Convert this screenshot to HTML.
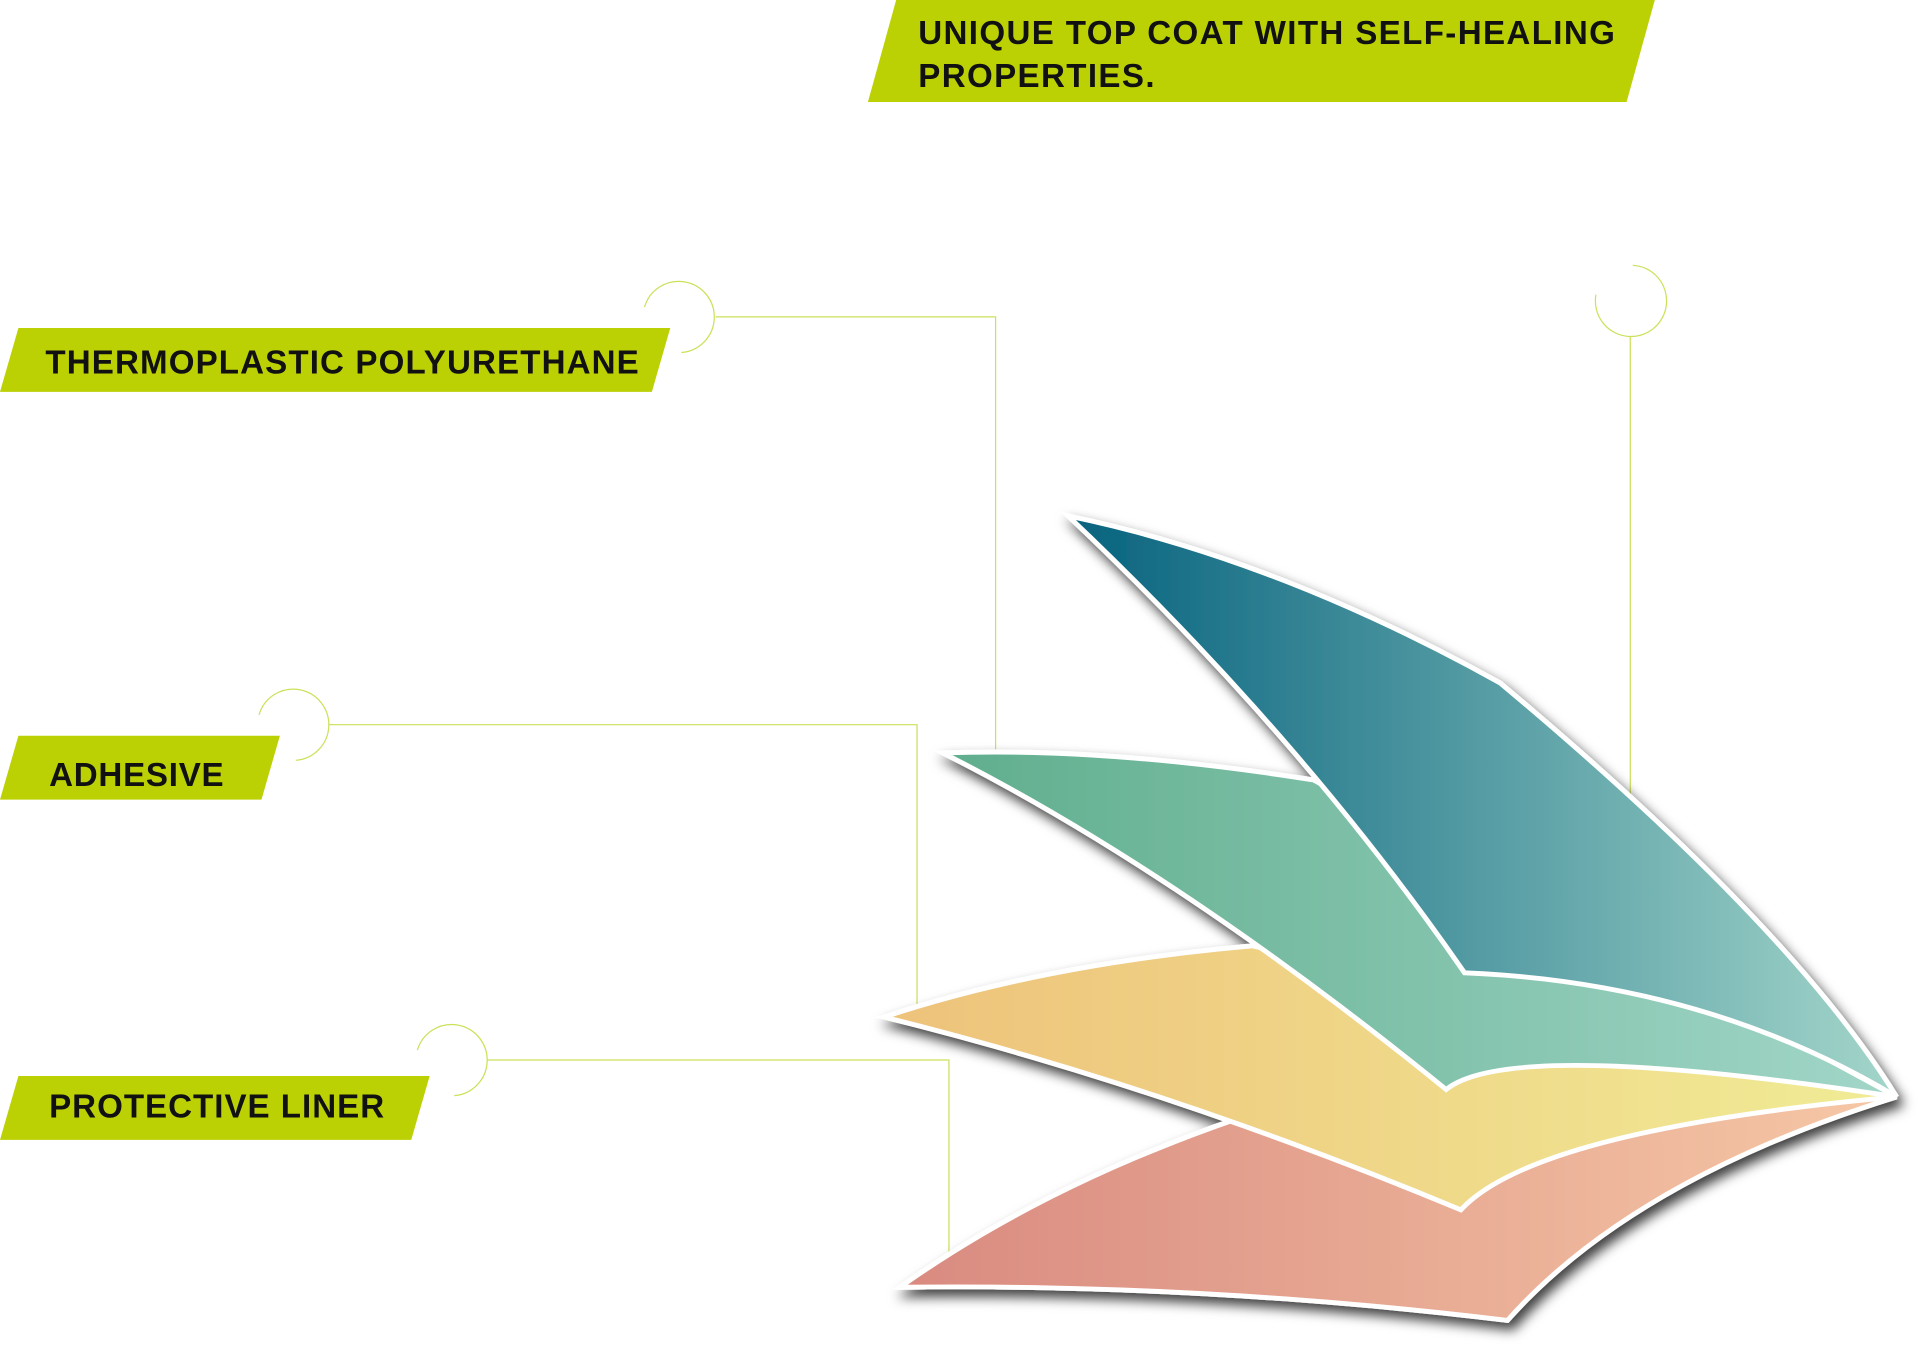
<!DOCTYPE html>
<html><head><meta charset="utf-8"><style>
html,body{margin:0;padding:0;background:#fff;}
svg{display:block;}
text{font-family:"Liberation Sans",sans-serif;font-weight:bold;fill:#111;}
</style></head><body>
<svg width="1920" height="1372" viewBox="0 0 1564 1117" preserveAspectRatio="none" xmlns="http://www.w3.org/2000/svg">
<defs>
<filter id="sh" x="-20%" y="-20%" width="140%" height="140%"><feDropShadow dx="4" dy="6" stdDeviation="5" flood-color="#000" flood-opacity="0.75"/></filter>
<linearGradient id="gp" x1="0" x2="1"><stop offset="0" stop-color="#d98a80"/><stop offset="1" stop-color="#f6c8a6"/></linearGradient>
<linearGradient id="gy" x1="0" x2="1"><stop offset="0" stop-color="#eec27a"/><stop offset="1" stop-color="#f0ec96"/></linearGradient>
<linearGradient id="gg" x1="0" x2="1"><stop offset="0" stop-color="#60ae8e"/><stop offset="1" stop-color="#a2d6c8"/></linearGradient>
<linearGradient id="gt" x1="0" x2="1"><stop offset="0" stop-color="#06627e"/><stop offset="1" stop-color="#a4d6ca"/></linearGradient>
</defs>
<g fill="none" stroke="#cde05a" stroke-width="1">
<path d="M583 258 H811 V610"/><path d="M268 590 H747 V820"/><path d="M397 863 H773 V1020"/><path d="M1328 274 V755"/>
<path d="M525 250 A29 29 0 1 1 555 287"/>
<path d="M211 582 A29 29 0 1 1 241 619"/>
<path d="M340 855 A29 29 0 1 1 370 892"/>
<path d="M1300 240 A29 29 0 1 0 1330 216"/>
</g>
<polygon points="730,0 1348,0 1325,83 707,83" fill="#bcd104"/>
<text x="748" y="36" font-size="27" letter-spacing="1.1">UNIQUE TOP COAT WITH SELF-HEALING</text>
<text x="748" y="71" font-size="27" letter-spacing="1.1">PROPERTIES.</text>
<polygon points="15,267 546,267 531,319 0,319" fill="#bcd104"/>
<text x="37" y="304" font-size="27" letter-spacing="0.9">THERMOPLASTIC POLYURETHANE</text>
<polygon points="15,599 228,599 213,651 0,651" fill="#bcd104"/>
<text x="40" y="640" font-size="27" letter-spacing="0.6">ADHESIVE</text>
<polygon points="15,876 350,876 335,928 0,928" fill="#bcd104"/>
<text x="40" y="910" font-size="27" letter-spacing="0.8">PROTECTIVE LINER</text>
<g stroke="#fff" stroke-width="4" filter="url(#sh)">
<path d="M733 1048 Q850 965 1010 910 L1545 893 Q1330 960 1228 1075 Q980 1045 733 1048 Z" fill="url(#gp)"/>
<path d="M720 828 Q850 785 1020 770 L1545 893 Q1250 920 1190 985 Q950 885 720 828 Z" fill="url(#gy)"/>
<path d="M768 613 Q900 608 1070 635 L1545 893 Q1230 845 1178 887 Q960 710 768 613 Z" fill="url(#gg)"/>
<path d="M870 420 Q1040 455 1222 556 Q1460 755 1545 893 Q1390 800 1193 792 Q1060 600 870 420 Z" fill="url(#gt)"/>
</g>
</svg>
</body></html>
